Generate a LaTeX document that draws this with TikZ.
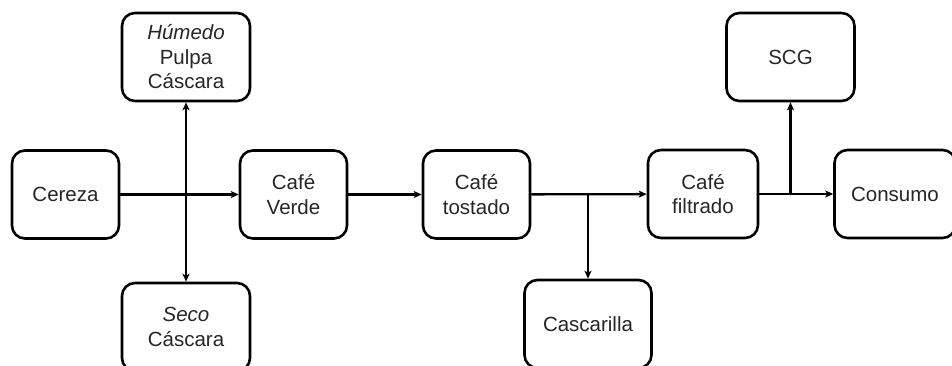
\documentclass[tikz,border=0pt]{standalone}
\usepackage{fontspec}
\setmainfont{Liberation Sans}
\usetikzlibrary{arrows.meta}
\begin{document}
\begin{tikzpicture}[x=1pt,y=-1pt,
  box/.style={draw, line width=2.6pt, rounded corners=13pt, align=center,
    minimum height=88pt, inner sep=2pt, text=black!85,
    font=\fontsize{20.5}{24.5}\selectfont},
  arr/.style={line width=2.3pt, -{Stealth[length=8pt,width=7pt,inset=2pt]}}]
\useasboundingbox (0,0) rectangle (952,366);
\node[box, minimum width=107pt] (cer) at (65.5,194.5) {Cereza};
\node[box, minimum width=128pt] (hum) at (186,57) {\textit{Húmedo}\\Pulpa\\Cáscara};
\node[box, minimum width=128pt] (sec) at (186,327) {\textit{Seco}\\Cáscara};
\node[box, minimum width=107pt] (ver) at (293.5,194.5) {Café\\Verde};
\node[box, minimum width=107pt] (tos) at (476.5,194.5) {Café\\tostado};
\node[box, minimum width=127pt] (cas) at (588,324) {Cascarilla};
\node[box, minimum width=110pt] (fil) at (703,194) {Café\\filtrado};
\node[box, minimum width=128pt] (scg) at (790.5,57) {SCG};
\node[box, minimum width=121pt] (con) at (895,194) {Consumo};
\coordinate (j1) at (186,194.5);
\coordinate (j2) at (588,194.5);
\coordinate (j3) at (790.5,194);
\draw[arr] (cer) -- (ver);
\draw[arr] (j1) -- (hum);
\draw[arr] (j1) -- (sec);
\draw[arr] (ver) -- (tos);
\draw[arr] (tos) -- (fil);
\draw[arr] (j2) -- (cas);
\draw[arr] (fil) -- (con);
\draw[arr] (j3) -- (scg);
\end{tikzpicture}
\end{document}
